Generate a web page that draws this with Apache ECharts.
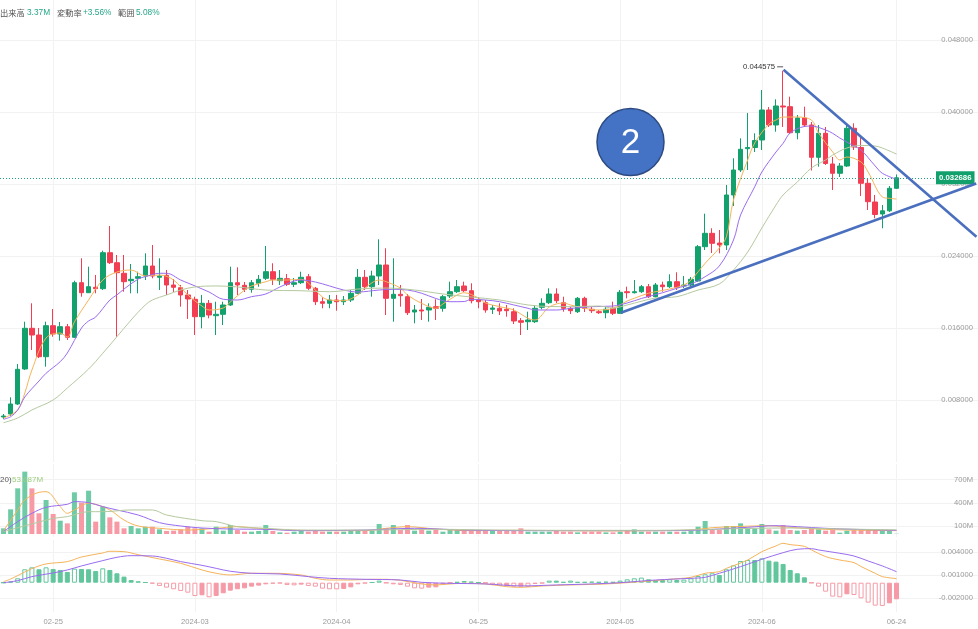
<!DOCTYPE html>
<html>
<head>
<meta charset="utf-8">
<script src="https://cdn.jsdelivr.net/npm/echarts@6/dist/echarts.min.js"></script>
<style>
  html, body { margin: 0; padding: 0; background: #fff; }
  #chart { width: 978px; height: 629px; }
</style>
</head>
<body>
<div id="chart"></div>
<script>
// ---- data ----
const slotCount = 138   // 127 candles + empty space on the right
const tickIndex = [7, 27, 47, 67, 87, 107, 126]
const tickLabels = ['02-25', '2024-03', '2024-04', '04-25', '2024-05', '2024-06', '06-24']

const opens = [0.006111,0.006444,0.007556,0.011444,0.015967,0.015222,0.012811,0.016256,0.015333,0.016144,
  0.014967,0.021033,0.019922,0.020522,0.020367,0.024367,0.023256,0.022078,0.021256,0.021522,
  0.021778,0.022889,0.021633,0.021856,0.020778,0.020478,0.019667,0.019189,0.017256,0.018744,
  0.017367,0.017522,0.018556,0.021033,0.020744,0.0203,0.020967,0.021522,0.022256,0.021256,
  0.021478,0.020856,0.021033,0.0217,0.020411,0.018922,0.018744,0.019111,0.018922,0.019111,
  0.019856,0.021633,0.020589,0.021778,0.023,0.0193,0.019744,0.019478,0.017778,0.018,
  0.018,0.018367,0.018189,0.019556,0.020033,0.020667,0.020144,0.019111,0.018811,0.018078,
  0.018189,0.018078,0.017811,0.016811,0.0167,0.0167,0.0183,0.018811,0.019778,0.018811,
  0.018189,0.017811,0.0193,0.018078,0.017811,0.0177,0.018189,0.017633,0.020033,0.019922,
  0.020033,0.020589,0.019478,0.020778,0.020589,0.021144,0.020667,0.020778,0.021222,0.025033,
  0.026522,0.025444,0.025222,0.030778,0.033556,0.035922,0.036056,0.036889,0.040222,0.038556,
  0.040667,0.040589,0.0377,0.039333,0.038556,0.034967,0.037633,0.034222,0.033189,0.034,
  0.038189,0.036056,0.032078,0.03,0.028667,0.029022,0.031522]
const closes = [0.006222,0.007556,0.011411,0.015967,0.015222,0.012811,0.016256,0.015333,0.016144,0.014967,
  0.021033,0.019922,0.020589,0.020367,0.024367,0.023256,0.022144,0.021144,0.021411,0.0217,
  0.022889,0.021778,0.021778,0.020778,0.020522,0.019667,0.019222,0.017256,0.018744,0.017444,
  0.017522,0.018556,0.021033,0.020778,0.0203,0.021033,0.021411,0.022256,0.021411,0.021522,
  0.020856,0.021033,0.021633,0.020411,0.018922,0.018744,0.019111,0.018922,0.019111,0.019856,
  0.021633,0.020589,0.021778,0.023,0.0193,0.019744,0.019589,0.0177,0.018,0.017889,
  0.0183,0.018189,0.019478,0.020033,0.020589,0.020144,0.019033,0.018922,0.018,0.018222,
  0.017889,0.017922,0.016778,0.016633,0.016889,0.018189,0.018744,0.019778,0.019033,0.018189,
  0.017922,0.0193,0.018189,0.017922,0.0177,0.018078,0.017633,0.019967,0.019922,0.020033,
  0.020589,0.019478,0.020778,0.020589,0.021144,0.020522,0.020778,0.021411,0.025033,0.026522,
  0.025411,0.025222,0.030778,0.033556,0.035856,0.036056,0.036833,0.040222,0.038556,0.040667,
  0.040556,0.0377,0.039333,0.038556,0.034967,0.037633,0.034278,0.033189,0.034,0.038189,
  0.036111,0.032078,0.030033,0.028611,0.029022,0.031522,0.032686]
const lows = [0.005889,0.006222,0.007444,0.011333,0.013556,0.012667,0.0117,0.015033,0.014589,0.014667,
  0.014889,0.019478,0.019889,0.019856,0.020222,0.023111,0.015033,0.020033,0.019856,0.019856,
  0.021333,0.021522,0.020222,0.019667,0.02,0.018367,0.017,0.015222,0.015967,0.017078,
  0.015222,0.016333,0.018444,0.019667,0.02,0.019922,0.020589,0.021333,0.020778,0.020778,
  0.020667,0.020556,0.020889,0.020222,0.018556,0.018189,0.018189,0.017922,0.018556,0.018889,
  0.019778,0.020222,0.019478,0.020778,0.017444,0.0167,0.018367,0.017444,0.016522,0.016889,
  0.0167,0.016889,0.017811,0.019333,0.019889,0.02,0.018744,0.018189,0.0177,0.017556,
  0.017444,0.017256,0.016444,0.015222,0.015778,0.016556,0.018078,0.018667,0.018778,0.017811,
  0.017556,0.017667,0.017778,0.017667,0.017556,0.017078,0.017444,0.017556,0.0193,0.019833,
  0.019889,0.019333,0.019389,0.020033,0.020444,0.020222,0.020444,0.020667,0.021111,0.024667,
  0.024333,0.0243,0.024667,0.029556,0.033333,0.033556,0.035556,0.035778,0.038333,0.037811,
  0.038333,0.037556,0.036967,0.038333,0.0335,0.033922,0.034111,0.031333,0.032778,0.033889,
  0.035778,0.030667,0.029111,0.028189,0.027078,0.028889,0.031444]
const highs = [0.006444,0.0083,0.012,0.0167,0.018744,0.016,0.0167,0.018111,0.016667,0.016444,
  0.021256,0.023744,0.022811,0.021889,0.024589,0.027333,0.024111,0.024111,0.023111,0.022256,
  0.0243,0.025222,0.023744,0.022444,0.021444,0.020778,0.020222,0.019478,0.019667,0.019111,
  0.018922,0.018922,0.022811,0.022744,0.021111,0.021333,0.021889,0.025111,0.023189,0.022444,
  0.022,0.021556,0.022256,0.022,0.020556,0.019411,0.019667,0.019667,0.019556,0.020222,
  0.022556,0.022444,0.022367,0.025856,0.024856,0.023744,0.020778,0.019778,0.018556,0.019222,
  0.018744,0.019189,0.019667,0.021144,0.021333,0.021144,0.020967,0.019444,0.019111,0.018556,
  0.018744,0.018556,0.018189,0.017111,0.017811,0.018556,0.0193,0.020411,0.020411,0.019478,
  0.018367,0.019444,0.019478,0.018333,0.018,0.018333,0.018922,0.020222,0.020589,0.021333,
  0.020778,0.020889,0.021,0.021144,0.021967,0.022189,0.021778,0.021667,0.025222,0.0287,
  0.027078,0.026889,0.031889,0.034856,0.037078,0.039889,0.037633,0.042444,0.040556,0.041411,
  0.044575,0.0417,0.039667,0.040589,0.038889,0.038556,0.038333,0.035,0.034333,0.038722,
  0.038744,0.037189,0.032633,0.030778,0.029667,0.031778,0.033056]

// price moving averages, [candle index, value]
const maFast = [[0,0.006],[2,0.00689],[3,0.00878],[4,0.01133],[6,0.01489],[8,0.01544],[9,0.015],[10,0.01667],
  [12,0.01911],[14,0.02133],[16,0.02222],[18,0.02244],[20,0.02178],[22,0.02189],[24,0.02133],[26,0.01967],
  [28,0.01844],[29,0.018],[31,0.01822],[32,0.01889],[34,0.02022],[35,0.02067],[37,0.02114],[38,0.02133],
  [40,0.02133],[42,0.02141],[43,0.021],[45,0.01944],[46,0.01911],[48,0.01903],[50,0.01967],[51,0.02044],
  [53,0.02133],[54,0.02114],[56,0.02044],[57,0.01967],[59,0.01874],[61,0.01819],[62,0.01867],[64,0.01967],
  [65,0.01992],[67,0.01933],[68,0.01878],[70,0.01837],[72,0.018],[74,0.01708],[75,0.01689],[77,0.01833],
  [79,0.01878],[80,0.01856],[82,0.01819],[84,0.018],[86,0.01819],[88,0.019],[89,0.0193],[91,0.01986],
  [94,0.02033],[96,0.02078],[97,0.02133],[99,0.02319],[101,0.02489],[102,0.02614],[103,0.03022],[105,0.03467],
  [106,0.03656],[108,0.03867],[109,0.03911],[110,0.03944],[112,0.03944],[114,0.03911],[115,0.03767],[117,0.03556],
  [118,0.03467],[119,0.035],[121,0.03444],[122,0.03333],[124,0.03056],[125,0.03041],[126,0.03033]]
const maMid = [[0,0.00586],[1,0.00614],[2,0.00689],[3,0.00833],[5,0.01011],[6,0.01097],[8,0.01226],[9,0.01322],
  [11,0.016],[12,0.01678],[13,0.01722],[15,0.01911],[16,0.01967],[17,0.02033],[19,0.02144],[20,0.0217],
  [22,0.02208],[23,0.02208],[25,0.02133],[26,0.021],[29,0.02],[31,0.01919],[33,0.01911],[35,0.01948],
  [37,0.01978],[39,0.02056],[41,0.02122],[42,0.02133],[44,0.02111],[46,0.02067],[48,0.02022],[50,0.02],
  [53,0.02022],[55,0.0203],[57,0.02022],[59,0.01986],[61,0.01928],[63,0.01892],[65,0.01894],[66,0.01919],
  [68,0.01911],[70,0.01892],[72,0.01856],[74,0.01819],[75,0.018],[78,0.018],[80,0.01817],[83,0.01837],
  [86,0.01844],[88,0.01878],[90,0.01928],[93,0.01992],[95,0.02041],[97,0.02089],[99,0.0217],[101,0.02289],
  [103,0.02578],[104,0.02856],[106,0.0317],[107,0.03333],[109,0.03556],[110,0.03652],[111,0.03767],[113,0.03839],
  [114,0.03844],[116,0.038],[117,0.03763],[118,0.03711],[120,0.03622],[121,0.03578],[123,0.034],[124,0.03319],
  [126,0.03252]]
const maSlow = [[0,0.00548],[2,0.006],[4,0.00689],[7,0.008],[9,0.00933],[12,0.01144],[14,0.01319],[16,0.01503],
  [18,0.01689],[20,0.01856],[21,0.01911],[23,0.01967],[25,0.02022],[27,0.02056],[30,0.02067],[33,0.02056],
  [37,0.02022],[42,0.02014],[46,0.02003],[50,0.02033],[54,0.02044],[58,0.02022],[62,0.01978],[66,0.01944],
  [70,0.01911],[74,0.01856],[77,0.01839],[80,0.01837],[84,0.01844],[86,0.01822],[88,0.01856],[92,0.01933],
  [95,0.01948],[98,0.02022],[101,0.02089],[103,0.02244],[105,0.02444],[107,0.02711],[109,0.02967],[110,0.03078],
  [112,0.03222],[114,0.03378],[116,0.03467],[117,0.03522],[119,0.036],[121,0.03628],[123,0.03622],[124,0.036],
  [126,0.03533]]

// volume in millions
const volumes = [73,317,587,802,587,266,437,257,171,137,536,403,557,159,352,214,159,73,103,73,
  94,94,60,39,43,60,94,73,73,30,94,43,116,51,30,30,39,116,39,21,
  17,30,39,30,39,30,30,30,30,39,51,39,43,129,73,116,51,116,43,64,
  43,60,30,51,51,39,39,39,43,39,39,39,39,73,30,30,30,30,39,30,
  30,21,30,30,30,21,21,30,39,60,30,30,30,30,30,30,30,39,94,167,
  51,51,103,103,137,73,73,129,60,43,116,51,43,51,73,60,43,51,17,43,
  51,51,51,51,43,43,3.37]
const volMaFast = [[0,43],[2,309],[3,437],[5,536],[6,544],[8,352],[9,266],[10,309],[12,394],[13,382],[15,309],
  [17,180],[19,103],[22,73],[26,51],[30,73],[33,94],[36,73],[40,51],[46,43],[51,43],[54,73],[57,94],[61,64],
  [66,43],[72,47],[78,43],[85,39],[92,43],[97,51],[100,81],[103,94],[106,103],[108,107],[110,94],[113,73],
  [116,60],[119,51],[122,47],[126,43]]
const volMaMid = [[0,30],[2,159],[4,266],[6,343],[9,382],[10,416],[12,403],[14,352],[16,309],[19,244],[22,146],
  [25,103],[28,77],[32,64],[37,60],[42,43],[51,51],[58,73],[65,51],[75,43],[90,43],[97,47],[101,64],[105,86],
  [109,107],[112,94],[116,73],[120,60],[126,47]]
const volMaSlow = [[0,30],[4,129],[7,201],[9,223],[12,287],[14,287],[18,309],[21,309],[23,244],[28,171],[30,159],
  [33,94],[37,73],[42,51],[51,51],[61,60],[70,51],[80,47],[92,47],[100,60],[106,73],[111,77],[116,69],
  [121,60],[126,54]]

// MACD
const macdHist = [0,0.00014,0.00057,0.00174,0.00199,0.00174,0.00199,0.00178,0.00165,0.00139,
  0.00182,0.00178,0.00174,0.00152,0.00186,0.00165,0.00122,0.00079,0.00035,0.00018,
  0.00005,-0.00012,-0.00042,-0.00064,-0.00085,-0.00107,-0.00129,-0.00172,-0.00163,-0.00189,
  -0.00172,-0.00137,-0.00103,-0.00085,-0.00073,-0.00051,-0.00038,-0.00021,-0.00012,-0.00008,
  -0.00029,-0.00034,-0.00025,-0.00042,-0.00051,-0.00077,-0.00085,-0.00086,-0.00081,-0.0006,
  -0.00021,-0.00008,0.00005,0.00027,-0.00003,-0.00021,-0.00029,-0.00051,-0.00073,-0.00077,
  -0.00064,-0.0006,-0.00021,-0.00003,0.0001,0.00022,0.00014,0.00005,-0.00003,-0.00029,
  -0.00042,-0.00042,-0.00051,-0.00051,-0.00055,-0.00016,-0.00008,0.00027,0.00027,0.0001,
  0.00027,0.0001,0.0001,0.00014,0.0001,0.00014,0.0001,0.00027,0.00044,0.00057,
  0.00066,0.00044,0.00035,0.00035,0.00044,0.00035,0.0004,0.00057,0.00087,0.00109,
  0.00122,0.001,0.00174,0.00225,0.00281,0.00294,0.00294,0.00316,0.00286,0.00273,
  0.00243,0.00165,0.00122,0.0007,-0.00003,-0.00051,-0.00116,-0.0018,-0.00189,-0.0015,
  -0.00159,-0.00202,-0.00258,-0.00297,-0.00301,-0.00267,-0.00215]
const dif = [[0,0.00014],[1,0.00048],[2,0.00092],[4,0.00182],[6,0.00243],[9,0.00273],[11,0.00333],[14,0.00385],
  [15,0.00407],[17,0.00402],[19,0.00363],[22,0.00307],[25,0.00251],[28,0.00165],[30,0.00122],[32,0.001],
  [35,0.00122],[38,0.00122],[42,0.001],[44,0.00057],[46,0.00035],[49,0.00035],[52,0.00044],[54,0.00044],
  [56,0.00031],[59,-0.00016],[61,-0.00029],[63,-0.00016],[65,-0.00008],[68,-0.00016],[71,-0.00051],[73,-0.0006],
  [76,-0.00042],[80,-0.00029],[85,-0.00016],[90,0.00014],[94,0.00044],[97,0.0007],[99,0.00122],[101,0.00143],
  [102,0.00186],[105,0.00294],[107,0.00402],[109,0.00476],[110,0.0051],[111,0.00493],[113,0.00471],[114,0.00424],
  [116,0.00338],[118,0.00294],[120,0.0026],[121,0.00209],[123,0.00122],[124,0.00079],[126,0.00053]]
const dea = [[0,0],[2,0.00027],[4,0.00079],[7,0.00126],[9,0.00165],[11,0.00217],[14,0.00286],[16,0.00329],
  [18,0.0035],[21,0.00346],[23,0.00316],[25,0.00273],[28,0.00225],[30,0.00186],[32,0.00148],[35,0.00122],
  [39,0.00113],[43,0.00079],[46,0.00057],[51,0.00044],[56,0.00035],[59,0.00005],[63,-0.00008],[68,-0.00016],
  [73,-0.00042],[78,-0.00029],[83,-0.00016],[87,0],[92,0.00035],[97,0.00057],[99,0.0007],[101,0.00122],
  [104,0.00208],[107,0.00303],[110,0.00389],[112,0.00433],[114,0.00441],[115,0.00424],[118,0.00381],[120,0.00346],
  [122,0.00281],[124,0.00217],[126,0.00143]]

// drawn trend lines, [candle index, price]
const trendLow = [[87.1, 0.0177], [137.25, 0.032056]]
const trendHigh = [[110.06, 0.0447], [137.28, 0.026144]]

const priceTicks = [0.008, 0.016, 0.024, 0.032, 0.040, 0.048]
const volTicks = [100, 400, 700]
const macdTicks = [-0.002, 0.001, 0.004]

// ---- styling ----
const UP = '#12a06c'
const DOWN = '#f23d52'
const VOL_UP = '#6fcaa6'
const VOL_DOWN = '#f79aa5'
const H_UP = '#62c69c'
const H_DOWN = '#f59aa6'
const C_FAST = '#f5b45a'
const C_MID = '#9a6cf0'
const C_SLOW = '#b5c99f'
const LABEL = '#9a9a9a'
const GRIDLINE = '#f2f2f2'
const FONT = '"Liberation Sans", Arial, sans-serif'

const categories = Array.from({ length: slotCount }, (_, i) => String(i))
const lastClose = closes[closes.length - 1]
const isTick = (i) => tickIndex.indexOf(i) >= 0

const catAxis = (gridIndex, showLabels) => ({
    type: 'category',
    gridIndex,
    data: categories,
    boundaryGap: true,
    axisLine: { show: false },
    axisTick: { show: false },
    axisLabel: {
        show: showLabels,
        interval: (i) => isTick(i),
        formatter: (v, i) => tickLabels[tickIndex.indexOf(i)] || '',
        color: LABEL,
        fontSize: 7.6,
        fontFamily: FONT,
        margin: 6
    },
    splitLine: {
        show: true,
        alignWithLabel: true,
        interval: (i) => isTick(i),
        lineStyle: { color: GRIDLINE }
    }
})

const valAxis = (gridIndex, min, max, ticks, fmt) => ({
    type: 'value',
    gridIndex,
    position: 'right',
    min,
    max,
    axisLine: { show: false },
    axisTick: { show: false, customValues: ticks },
    axisLabel: {
        inside: true,
        customValues: ticks,
        formatter: fmt,
        color: LABEL,
        fontSize: 7.6,
        fontFamily: FONT,
        margin: 5
    },
    splitLine: { show: true, lineStyle: { color: GRIDLINE } }
})

const line = (data, color, xi, yi, width) => ({
    type: 'line',
    xAxisIndex: xi,
    yAxisIndex: yi,
    data,
    smooth: 0.35,
    symbol: 'none',
    silent: true,
    lineStyle: { color, width: width || 1 },
    z: 3
})

const candleData = opens.map((o, i) => [o, closes[i], lows[i], highs[i]])
const volData = volumes.map((v, i) => ({
    value: v,
    itemStyle: { color: closes[i] >= opens[i] ? VOL_UP : VOL_DOWN }
}))
const histData = macdHist.map((h, i) => {
    const c = h >= 0 ? H_UP : H_DOWN
    const prev = i > 0 ? Math.abs(macdHist[i - 1]) : 0
    const hollow = Math.abs(h) > prev
    return {
        value: h,
        itemStyle: { color: hollow ? '#ffffff' : c, borderColor: c, borderWidth: 1 }
    }
})

const highIdx = highs.indexOf(Math.max(...highs))

const option = {
    animation: false,
    backgroundColor: '#ffffff',
    grid: [
        { left: 0, top: 0, width: 980, height: 462 },
        { left: 0, top: 464, width: 980, height: 73 },
        { left: 0, top: 540, width: 980, height: 72 }
    ],
    xAxis: [
        catAxis(0, false),
        catAxis(1, false),
        catAxis(2, true),
        { type: 'value', gridIndex: 0, min: -0.5, max: slotCount - 0.5, show: false }
    ],
    yAxis: [
        valAxis(0, 0.001111, 0.052444, priceTicks, (v) => v.toFixed(6)),
        valAxis(1, -38.6, 900, volTicks, (v) => v + 'M'),
        valAxis(2, -0.003794, 0.00553, macdTicks, (v) => v.toFixed(6))
    ],
    series: [
        {
            type: 'candlestick',
            xAxisIndex: 0,
            yAxisIndex: 0,
            data: candleData,
            barWidth: 5,
            itemStyle: { color: UP, color0: DOWN, borderColor: UP, borderColor0: DOWN, borderWidth: 1 },
            z: 2,
            markLine: {
                silent: true,
                symbol: ['none', 'none'],
                lineStyle: { type: [1, 2], color: '#1fa27e', width: 1 },
                label: {
                    position: 'end',
                    distance: 2,
                    formatter: lastClose.toFixed(6),
                    backgroundColor: UP,
                    color: '#ffffff',
                    fontWeight: 'bold',
                    fontSize: 7.8,
                    fontFamily: FONT,
                    padding: [3, 3, 2, 3]
                },
                data: [[{ x: 0, yAxis: lastClose }, { x: 934, yAxis: lastClose }]]
            },
            markPoint: {
                silent: true,
                symbol: 'rect',
                symbolSize: [6, 1],
                symbolOffset: [-3, -4],
                itemStyle: { color: '#555' },
                label: {
                    show: true,
                    position: 'left',
                    distance: 2,
                    formatter: highs[highIdx].toFixed(6),
                    color: '#333',
                    fontSize: 7.7,
                    fontFamily: FONT
                },
                data: [{ coord: [highIdx, highs[highIdx]] }]
            }
        },
        line(maFast, C_FAST, 0, 0),
        line(maMid, C_MID, 0, 0),
        line(maSlow, C_SLOW, 0, 0),
        {
            type: 'line', xAxisIndex: 3, yAxisIndex: 0, data: trendLow, symbol: 'none', silent: true,
            lineStyle: { color: '#4a6fbe', width: 2.6 }, z: 10
        },
        {
            type: 'line', xAxisIndex: 3, yAxisIndex: 0, data: trendHigh, symbol: 'none', silent: true,
            lineStyle: { color: '#4a6fbe', width: 2.6 }, z: 10
        },
        { type: 'bar', xAxisIndex: 1, yAxisIndex: 1, data: volData, barWidth: 5 },
        line(volMaFast, C_FAST, 1, 1),
        line(volMaMid, C_MID, 1, 1),
        line(volMaSlow, C_SLOW, 1, 1),
        { type: 'bar', xAxisIndex: 2, yAxisIndex: 2, data: histData, barWidth: 5 },
        line(dif, C_FAST, 2, 2),
        line(dea, C_MID, 2, 2)
    ],
    graphic: [
        { type: 'text', x: 0, y: 9, style: { text: '出来高', fill: '#555', font: '8.3px "Noto Sans CJK JP"' } },
        { type: 'text', x: 27, y: 9, style: { text: '3.37M', fill: '#26a68a', font: '8.3px ' + FONT } },
        { type: 'text', x: 57, y: 9, style: { text: '変動率', fill: '#555', font: '8.3px "Noto Sans CJK JP"' } },
        { type: 'text', x: 83, y: 9, style: { text: '+3.56%', fill: '#26a68a', font: '8.3px ' + FONT } },
        { type: 'text', x: 118, y: 9, style: { text: '範囲', fill: '#555', font: '8.3px "Noto Sans CJK JP"' } },
        { type: 'text', x: 136, y: 9, style: { text: '5.08%', fill: '#26a68a', font: '8.3px ' + FONT } },
        { type: 'text', x: 0, y: 476, z: 20, style: { text: '20)', fill: '#555', font: '8px ' + FONT } },
        { type: 'text', x: 12, y: 476, z: 20, style: { text: '53.687M', fill: '#9ccf80', font: '8px ' + FONT } },
        {
            type: 'circle', z: 100,
            shape: { cx: 630.5, cy: 142, r: 33.5 },
            style: { fill: '#4472c4', stroke: '#2c4a80', lineWidth: 1.5 }
        },
        {
            type: 'text', z: 101, x: 630.5, y: 143,
            style: { text: '2', fill: '#ffffff', font: '35px ' + FONT, align: 'center', verticalAlign: 'middle' }
        }
    ]
}

const chart = echarts.init(document.getElementById('chart'))
chart.setOption(option)
</script>
</body>
</html>
